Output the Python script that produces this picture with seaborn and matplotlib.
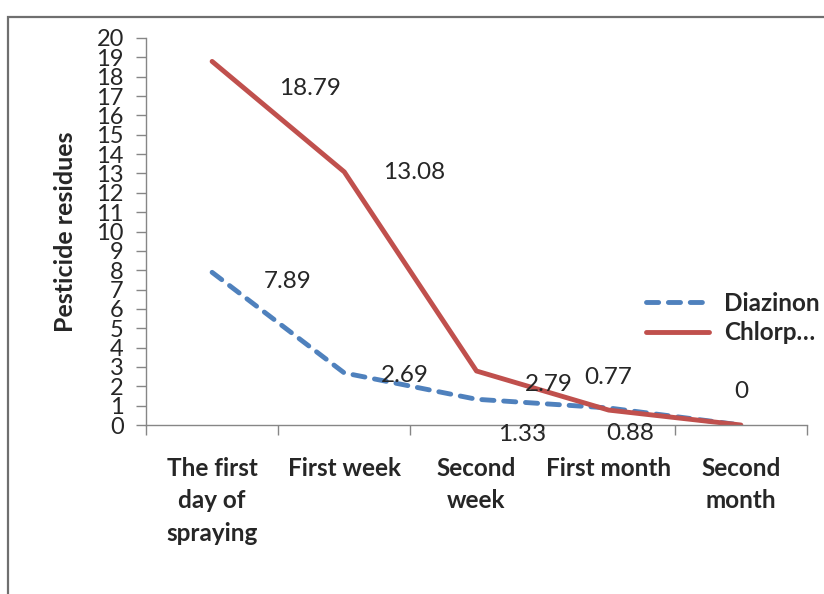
import pandas as pd
import matplotlib.pyplot as plt
import matplotlib.patches as mpatches
import seaborn as sns

# Chart data
periods = ['The first\nday of\nspraying', 'First week', 'Second\nweek', 'First month', 'Second\nmonth']
diazinon = [7.89, 2.69, 1.33, 0.88, 0]
chlorp = [18.79, 13.08, 2.79, 0.77, 0]
series_names = ['Diazinon', 'Chlorp…']

df = pd.DataFrame({
    'period': periods * 2,
    'value': diazinon + chlorp,
    'pesticide': [series_names[0]] * 5 + [series_names[1]] * 5,
})

sns.set_style('white')
plt.rcParams['font.family'] = ['Lato', 'DejaVu Sans']

fig = plt.figure(figsize=(8.24, 5.94), dpi=100)
ax = fig.add_axes([146 / 824, 1 - 425 / 594, (807 - 146) / 824, (425 - 38) / 594])

blue = '#4F81BD'
red = '#C0504D'
sns.lineplot(data=df, x='period', y='value', hue='pesticide', style='pesticide',
             palette={series_names[0]: blue, series_names[1]: red},
             dashes={series_names[0]: (2.5, 2.0), series_names[1]: ''},
             linewidth=3.5, ax=ax, sort=False)
for line in ax.lines:
    line.set_dash_capstyle('round')
    line.set_solid_capstyle('round')

ax.set_xlim(-0.5, 4.5)
ax.set_ylim(0, 20)
ax.set_yticks(range(0, 21))
ax.tick_params(axis='y', labelsize=17, length=7, width=1, color='#868686',
               direction='out', left=True, pad=9)
ax.set_xticks(range(5))
ax.set_xticklabels(periods, fontweight='bold', fontsize=17.5, linespacing=1.5, va='top')
ax.tick_params(axis='x', length=0, pad=23)
ax.set_xticks([i - 0.5 for i in range(6)], minor=True)
ax.tick_params(axis='x', which='minor', length=7, width=1, color='#868686',
               direction='out', bottom=True)
ax.set_xlabel('')
ax.set_ylabel('Pesticide residues', fontweight='bold', fontsize=18, labelpad=14)

for side in ['top', 'right']:
    ax.spines[side].set_visible(False)
for side in ['left', 'bottom']:
    ax.spines[side].set_color('#868686')
    ax.spines[side].set_linewidth(1)

# data labels
diaz_off = [(76, -9), (61, -3), (46, -35), (21, -26), None]
chl_off = [(98, -27), (70, -1), (72, -13), (-1, 33), (0, 33)]
for vals, offs in [(diazinon, diaz_off), (chlorp, chl_off)]:
    for i, (v, off) in enumerate(zip(vals, offs)):
        if off is None:
            continue
        ax.annotate(f'{v:g}', (i, v), xytext=off, textcoords='offset pixels',
                    ha='center', va='center', fontsize=17.5)

leg = ax.legend(loc='center left', bbox_to_anchor=(624 / 824, 1 - 318 / 594),
                bbox_transform=fig.transFigure, frameon=False, fontsize=17.5,
                handlelength=2.6, handletextpad=0.6, labelspacing=0.25)
for t in leg.get_texts():
    t.set_fontweight('bold')

# outer frame (cut off at right and bottom)
fig.patches.append(mpatches.Rectangle((8 / 824, -0.1), 1.2, 1.1 - 17 / 594,
                                      transform=fig.transFigure, fill=False,
                                      edgecolor='#6f6f6f', linewidth=1.6))

fig.savefig('out.png', dpi=100)
